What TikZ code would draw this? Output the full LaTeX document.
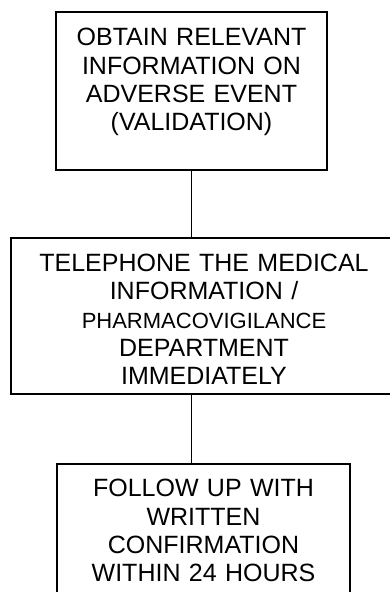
\documentclass[tikz,border=0pt]{standalone}
\usepackage{fontspec}
\setmainfont{Liberation Sans}

\begin{document}
\begin{tikzpicture}[x=1pt, y=-1pt,
  stage/.style={draw, line width=1.6pt, anchor=north, inner ysep=0pt,
    align=center, font=\fontsize{25}{28.3}\selectfont, text height=34pt},
  link/.style={line width=1.3pt}]
\clip (0,0) rectangle (390,592);

\node[stage, minimum width=271pt, text width=262pt, text depth=124pt] (obtain) at (191.5, 11)
  {OBTAIN RELEVANT\\ INFORMATION ON\\ ADVERSE EVENT\\ (VALIDATION)};
\node[stage, minimum width=386pt, text width=376pt, text height=33.7pt, text depth=122.3pt] (phone) at (204, 237)
  {TELEPHONE THE MEDICAL\\ INFORMATION /\\ {\fontsize{22}{28.3}\selectfont PHARMACOVIGILANCE}\\ DEPARTMENT\\ IMMEDIATELY};
\node[stage, minimum width=293pt, text width=284pt, text height=33pt, text depth=150pt] (follow) at (203.5, 463)
  {FOLLOW UP WITH\\ WRITTEN\\ CONFIRMATION\\ WITHIN 24 HOURS};

\draw[link] (obtain.south) -- (obtain.south |- phone.north);
\draw[link] (obtain.south |- phone.south) -- (obtain.south |- follow.north);

\end{tikzpicture}
\end{document}
